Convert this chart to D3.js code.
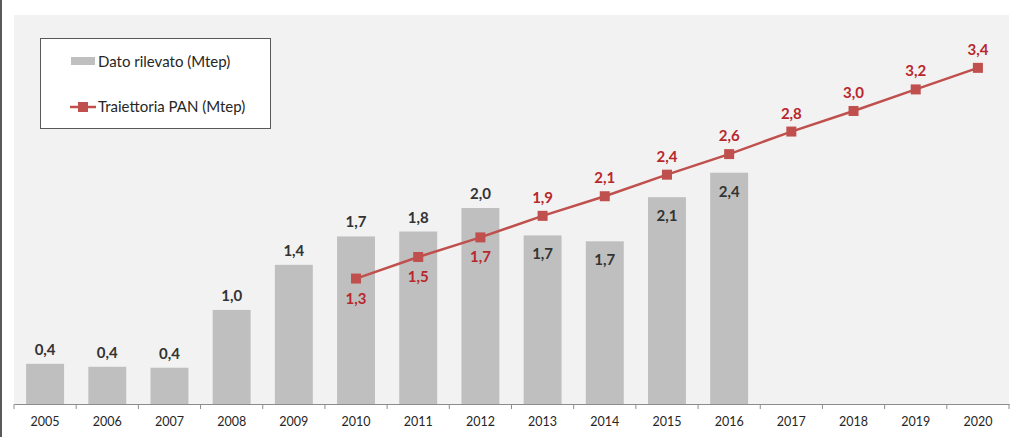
<!DOCTYPE html>
<html><head><meta charset="utf-8">
<script src="https://cdn.jsdelivr.net/npm/d3@7"></script>
<style>
html,body{margin:0;padding:0;background:#fff;}
svg{display:block;font-family:Lato,"Open Sans",sans-serif;}
</style></head>
<body>
<svg id="c" width="1023" height="437"></svg>
<script>
const years = ["2005","2006","2007","2008","2009","2010","2011","2012","2013","2014","2015","2016","2017","2018","2019","2020"];
const barValues = [0.41,0.38,0.37,0.96,1.42,1.71,1.76,2.00,1.72,1.66,2.11,2.36,null,null,null,null];
const barLabels = ["0,4","0,4","0,4","1,0","1,4","1,7","1,8","2,0","1,7","1,7","2,1","2,4",null,null,null,null];
const panValues = [null,null,null,null,null,1.28,1.50,1.70,1.92,2.12,2.34,2.55,2.78,2.99,3.21,3.43];
const panLabels = [null,null,null,null,null,"1,3","1,5","1,7","1,9","2,1","2,4","2,6","2,8","3,0","3,2","3,4"];
const legendLabels = ["Dato rilevato (Mtep)","Traiettoria PAN (Mtep)"];

const svg = d3.select("#c");
const x = d3.scaleBand().domain(years).range([14,1009]);
const y = d3.scaleLinear().domain([0,4]).range([404,12]);
const barColor="#bfbfbf", lineColor="#c0504d", labelRed="#b8272c";

// left frame line
svg.append("rect").attr("x",0).attr("y",0).attr("width",2).attr("height",437).attr("fill","#5a5a5a");
// plot background
svg.append("rect").attr("x",14).attr("y",15).attr("width",995).attr("height",389).attr("fill","#f2f2f2");

const bw = x.bandwidth()*0.61;
const barData = years.map((yr,i)=>({yr,v:barValues[i],l:barLabels[i],i})).filter(d=>d.v!=null);
svg.selectAll("rect.bar").data(barData).enter().append("rect").attr("class","bar")
  .attr("x",d=>x(d.yr)+(x.bandwidth()-bw)/2).attr("width",bw)
  .attr("y",d=>y(d.v)).attr("height",d=>y(0)-y(d.v)).attr("fill",barColor);
svg.selectAll("text.bl").data(barData).enter().append("text").attr("class","bl")
  .attr("x",d=>x(d.yr)+x.bandwidth()/2).attr("y",d=>d.i>=8 ? y(d.v)+24 : y(d.v)-9)
  .attr("text-anchor","middle").attr("font-size",15).attr("font-weight","bold").attr("fill","#333")
  .text(d=>d.l);

// axis
const ax = svg.append("g").attr("transform","translate(0,404)")
  .call(d3.axisBottom(x).tickSize(0).tickPadding(13));
ax.select(".domain").attr("stroke","#8c8c8c");
ax.selectAll("text").attr("font-size",12.5).attr("fill","#262626").attr("font-family","Lato,sans-serif");
const tickPos = years.map(yr=>x(yr)).concat([x.range()[1]]);
svg.selectAll("line.tk").data(tickPos).enter().append("line").attr("class","tk")
  .attr("x1",d=>d).attr("x2",d=>d).attr("y1",404).attr("y2",409).attr("stroke","#8c8c8c");

// line
const panData = years.map((yr,i)=>({yr,v:panValues[i],l:panLabels[i],i})).filter(d=>d.v!=null);
const cx = d=>x(d.yr)+x.bandwidth()/2;
svg.append("path").datum(panData).attr("fill","none").attr("stroke",lineColor).attr("stroke-width",2.5)
  .attr("d",d3.line().x(cx).y(d=>y(d.v)));
svg.selectAll("rect.mk").data(panData).enter().append("rect").attr("class","mk")
  .attr("x",d=>cx(d)-5).attr("y",d=>y(d.v)-5).attr("width",10).attr("height",10).attr("fill",lineColor);
svg.selectAll("text.pl").data(panData).enter().append("text").attr("class","pl")
  .attr("x",cx).attr("y",d=>d.i<=7 ? y(d.v)+25 : y(d.v)-13)
  .attr("text-anchor","middle").attr("font-size",15).attr("font-weight","bold").attr("fill",labelRed)
  .text(d=>d.l);

// legend
const lg = svg.append("g");
lg.append("rect").attr("x",40.5).attr("y",38.5).attr("width",230).attr("height",90)
  .attr("fill","#fff").attr("stroke","#595959");
lg.append("rect").attr("x",71).attr("y",57).attr("width",24).attr("height",8).attr("fill",barColor);
lg.append("text").attr("x",98).attr("y",67).attr("font-size",15).attr("fill","#262626").text(legendLabels[0]);
lg.append("line").attr("x1",70).attr("x2",96).attr("y1",107).attr("y2",107).attr("stroke",lineColor).attr("stroke-width",2.5);
lg.append("rect").attr("x",78).attr("y",102).attr("width",10).attr("height",10).attr("fill",lineColor);
lg.append("text").attr("x",98).attr("y",112).attr("font-size",15).attr("fill","#262626").text(legendLabels[1]);
</script>
</body></html>
